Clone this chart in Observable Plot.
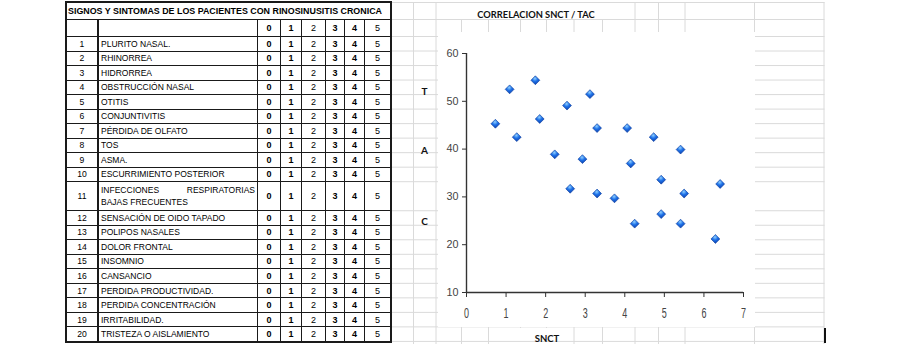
<!DOCTYPE html>
<html><head><meta charset="utf-8">
<script src="https://cdn.jsdelivr.net/npm/d3@7"></script>
<script src="https://cdn.jsdelivr.net/npm/@observablehq/plot@0.6"></script>
<style>
body{margin:0;background:#fff;}
#page{position:relative;width:900px;height:356px;overflow:hidden;background:#fff;}
#grid{position:absolute;left:0;top:0;}
#tbl{position:absolute;left:65px;top:1px;padding:2px;background:#1a1a1a;display:grid;gap:1px;
  grid-template-columns:31px 158px 22px 20px 23px 18px 19px 25px;
  grid-template-rows:16px 16px repeat(21,13.52px);
  font-family:"Liberation Sans",Arial,sans-serif;font-size:8.5px;color:#000;}
#tbl > div{background:#fff;display:flex;align-items:center;overflow:hidden;white-space:nowrap;}
#tbl .num{justify-content:center;font-size:9px;}
#tbl .c1{border-right:1px solid #1a1a1a;font-size:8.6px;}
#tbl .lab{padding-left:2px;}
#tbl .title{grid-column:1 / -1;font-weight:bold;font-size:8.9px;padding-left:1px;overflow:visible;}
#tbl .b{font-weight:bold;}
#tbl .span2{grid-row:span 2;}
#tbl .two{flex-direction:column;align-items:stretch;justify-content:center;line-height:12px;padding-right:2px;}
#tbl .two .l1{display:flex;justify-content:space-between;}
.lbl{position:absolute;transform:translate(-50%,-50%);white-space:nowrap;font-family:Lato,"Open Sans",sans-serif;font-weight:bold;color:#111;}
#chart{position:absolute;left:438px;top:32px;}
</style></head><body><div id="page"></div>
<script>
// ---------- data ----------
const tableTitle = "SIGNOS Y SINTOMAS DE LOS PACIENTES CON RINOSINUSITIS CRONICA";
const symptoms = ["PLURITO NASAL.","RHINORREA","HIDRORREA","OBSTRUCCIÓN NASAL","OTITIS","CONJUNTIVITIS",
  "PÉRDIDA DE OLFATO","TOS","ASMA.","ESCURRIMIENTO POSTERIOR","INFECCIONES RESPIRATORIAS|BAJAS FRECUENTES",
  "SENSACIÓN DE OIDO TAPADO","POLIPOS NASALES","DOLOR FRONTAL","INSOMNIO","CANSANCIO",
  "PERDIDA PRODUCTIVIDAD.","PERDIDA CONCENTRACIÓN","IRRITABILIDAD.","TRISTEZA O AISLAMIENTO"];
const scoreLevels = [0,1,2,3,4,5];
const boldLevels = [0,1,3,4];

const chartTitle = "CORRELACION SNCT / TAC";
const xLabel = "SNCT";
const yLetters = ["T","A","C"];
const snct = [0.73,1.09,1.27,1.74,1.85,2.23,2.54,2.62,2.93,3.12,3.30,3.30,3.74,4.06,4.15,4.25,4.73,4.92,4.92,5.41,5.41,5.50,6.29,6.41];
const tac  = [45.3,52.5,42.5,54.4,46.3,38.9,49.1,31.7,37.9,51.5,44.4,30.7,29.7,44.4,37.0,24.4,42.5,33.6,26.4,39.9,24.4,30.7,21.2,32.7];
const xTicks = [0,1,2,3,4,5,6,7];
const yTicks = [10,20,30,40,50,60];

// ---------- layout ----------
const page = document.getElementById("page");

// spreadsheet background grid (decoration)
const rowUnit = 14.52, firstRowLine = 36.5;
const hLines = [2.5, 19.5];
for (let k = 0; k <= 21; k++) if (k !== 11) hLines.push(firstRowLine + k * rowUnit);
const vLines = [[413.5,2,344],[436,2,344],[754.5,2,344],[824,2,344],
  [461.5,20,344],[488.5,20,344],[520.5,20,328],[546.5,20,328],[574,20,344],[602.5,20,344],
  [635,2,344],[658.5,2,344],[685,2,344]];
const g = d3.select(page).append("svg").attr("id","grid").attr("width",900).attr("height",356);
g.selectAll("line.h").data(hLines).join("line").attr("x1",392).attr("x2",824.5)
  .attr("y1",d=>d).attr("y2",d=>d).attr("stroke","#dadada").attr("stroke-width",1);
g.selectAll("line.v").data(vLines).join("line").attr("x1",d=>d[0]).attr("x2",d=>d[0])
  .attr("y1",d=>d[1]).attr("y2",d=>d[2]).attr("stroke","#dadada").attr("stroke-width",1);

// table
const tbl = document.createElement("div");
tbl.id = "tbl";
function cell(cls, html){ const d = document.createElement("div"); d.className = cls; d.innerHTML = html; tbl.appendChild(d); return d; }
cell("title", tableTitle);
cell("num c1", "");
cell("lab", "");
scoreLevels.forEach(s => cell("num" + (boldLevels.includes(s) ? " b" : ""), s));
symptoms.forEach((name, i) => {
  const two = name.includes("|");
  const extra = two ? " span2" : "";
  cell("num c1" + extra, i + 1);
  if (two) {
    const [a, b] = name.split("|");
    const w = a.split(" ");
    cell("lab two" + extra, `<div class="l1"><span>${w[0]}</span><span>${w[1]}</span></div><div>${b}</div>`);
  } else cell("lab", name);
  scoreLevels.forEach(s => cell("num" + (boldLevels.includes(s) ? " b" : "") + extra, s));
});
page.appendChild(tbl);

// text labels
function label(text, cx, cy, size){ const d = document.createElement("div"); d.className = "lbl";
  d.style.left = cx + "px"; d.style.top = cy + "px"; d.style.fontSize = size + "px"; d.textContent = text; page.appendChild(d); }
label(chartTitle, 536, 13.5, 9.3);
label(yLetters[0], 424.5, 91, 10);
label(yLetters[1], 424.5, 150, 10);
label(yLetters[2], 424.5, 221, 10);
label(xLabel, 547, 337.5, 9.5);

// black cursor line (decoration)
g.append("line").attr("x1",825).attr("x2",825).attr("y1",328).attr("y2",343).attr("stroke","#111").attr("stroke-width",2);

// scatter chart
const points = snct.map((x, i) => ({snct: x, tac: tac[i]}));
const axisFont = '"Liberation Sans",Arial,sans-serif';
const chart = Plot.plot({
  width: 317, height: 295,
  marginLeft: 28, marginRight: 12, marginTop: 21, marginBottom: 35,
  x: {domain: [0, 7]},
  y: {domain: [10, 60]},
  style: {background: "white", color: "#333", fontFamily: axisFont, overflow: "visible"},
  marks: [
    Plot.axisX({ticks: xTicks, tickFormat: d3.format("d"), tickSize: 5, tickPadding: 11, fontSize: 14, label: null, stroke: "#333", fill: "#444"}),
    Plot.axisY({ticks: yTicks, tickFormat: d3.format("d"), tickSize: 4, tickPadding: 4, fontSize: 10.5, label: null, stroke: "#333", fill: "#444"}),
    Plot.ruleY([10], {stroke: "#333", strokeWidth: 1.4}),
    Plot.ruleX([0], {stroke: "#333", strokeWidth: 1.4}),
    Plot.dot(points, {x: "snct", y: "tac", symbol: "diamond2", r: 4, fill: "url(#dgrad)", stroke: "#0a3d9e", strokeWidth: 0.6})
  ]
});
chart.id = "chart";
d3.select(chart).insert("defs", ":first-child").html(
  `<radialGradient id="dgrad" cx="0.45" cy="0.3" r="0.7">
     <stop offset="0" stop-color="#8fd0ff"/><stop offset="0.45" stop-color="#1f72e8"/><stop offset="1" stop-color="#0a3fae"/>
   </radialGradient>`);
// condense tick labels like the narrow spreadsheet font
d3.select(chart).selectAll('g[aria-label="x-axis tick label"] text')
  .attr("textLength", function(){ return 5 * this.textContent.length; }).attr("lengthAdjust", "spacingAndGlyphs");
d3.select(chart).selectAll('g[aria-label="y-axis tick label"] text')
  .attr("textLength", function(){ return 6 * this.textContent.length; }).attr("lengthAdjust", "spacingAndGlyphs");
page.appendChild(chart);
</script></body></html>
